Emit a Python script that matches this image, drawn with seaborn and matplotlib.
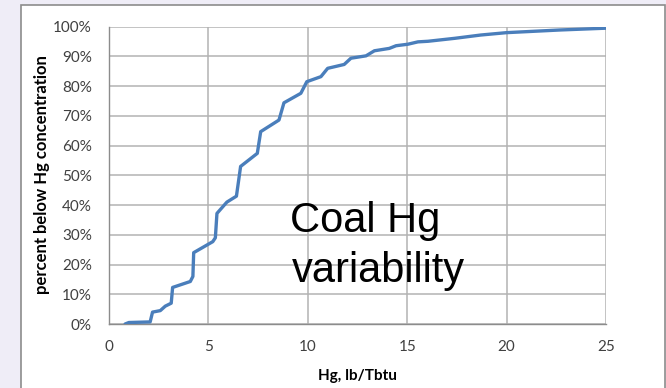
import matplotlib
matplotlib.use("Agg")
import matplotlib.pyplot as plt
import seaborn as sns
import pandas as pd
from matplotlib.patches import Rectangle
from matplotlib.ticker import PercentFormatter

# values (Hg in lb/Tbtu, cumulative percent)
hg_lb_tbtu = [0.81, 1.0, 2.07, 2.19, 2.58, 2.83, 3.13, 3.2, 4.09, 4.22, 4.26,
              5.22, 5.35, 5.43, 5.93, 6.41, 6.62, 7.46, 7.63, 8.55, 8.8,
              9.65, 9.95, 10.66, 11.0, 11.83, 12.17, 12.93, 13.35, 14.1,
              14.44, 15.03, 15.54, 16.05, 17.4, 18.7, 20.0, 22.7, 25.0]
pct_below = [0.0, 0.5, 0.7, 4.0, 4.5, 6.0, 7.0, 12.3, 14.3, 16.0, 24.0,
             27.7, 29.0, 37.2, 41.0, 43.0, 53.0, 57.4, 64.7, 68.6, 74.4,
             77.6, 81.5, 83.2, 86.0, 87.3, 89.4, 90.2, 91.9, 92.7,
             93.6, 94.1, 94.9, 95.1, 96.1, 97.2, 98.0, 98.9, 99.5]
x_ticks = [0, 5, 10, 15, 20, 25]
y_ticks = [0, 10, 20, 30, 40, 50, 60, 70, 80, 90, 100]

df = pd.DataFrame({"hg": hg_lb_tbtu, "pct": pct_below})

sns.set_style("white")
plt.rcParams["font.family"] = ["Lato", "DejaVu Sans"]

W, H = 666, 388
fig = plt.figure(figsize=(W / 100, H / 100), dpi=100, facecolor="#efedf7")

# white chart frame
fig.patches.append(Rectangle((21 / W, -0.05), (665 - 21) / W, 1.05 - 5 / H,
                             transform=fig.transFigure, facecolor="white",
                             edgecolor="#8c8c8c", linewidth=1.2, zorder=-10))

ax = fig.add_axes([109 / W, 1 - 324 / H, (606 - 109) / W, (324 - 26.7) / H])
ax.set_zorder(5)
ax.set_facecolor("white")

sns.lineplot(data=df, x="hg", y="pct", ax=ax, color="#4a7ebb", linewidth=2.4,
             sort=False, estimator=None, solid_joinstyle="round", zorder=3)

ax.set_xlim(0, 25)
ax.set_ylim(0, 100)
ax.set_xticks(x_ticks)
ax.set_yticks(y_ticks)
ax.yaxis.set_major_formatter(PercentFormatter(decimals=0))
ax.grid(True, color="#b3b3b3", linewidth=1.1)
ax.set_axisbelow(True)

for s in ["top", "right"]:
    ax.spines[s].set_visible(False)
for s in ["left", "bottom"]:
    ax.spines[s].set_color("#8c8c8c")
    ax.spines[s].set_linewidth(1.0)

ax.tick_params(axis="both", direction="out", length=4.3, width=1.0,
               color="#8c8c8c", labelcolor="#404040", labelsize=11)
ax.tick_params(axis="y", pad=8)
ax.tick_params(axis="x", pad=7)

ax.set_xlabel("Hg, lb/Tbtu", fontsize=11, fontweight="bold", color="black")
ax.set_ylabel("percent below Hg concentration", fontsize=12,
              fontweight="bold", color="black")
ax.xaxis.set_label_coords(0.5, -0.15)
ax.yaxis.set_label_coords(-0.119, 0.503)

ax.text(9.1, 30.9, "Coal Hg", fontsize=30, family="Liberation Sans",
        va="baseline", ha="left", color="black", zorder=4)
ax.text(9.2, 14.1, "variability", fontsize=30, family="Liberation Sans",
        va="baseline", ha="left", color="black", zorder=4)

fig.savefig("out.png", dpi=100, facecolor=fig.get_facecolor())
